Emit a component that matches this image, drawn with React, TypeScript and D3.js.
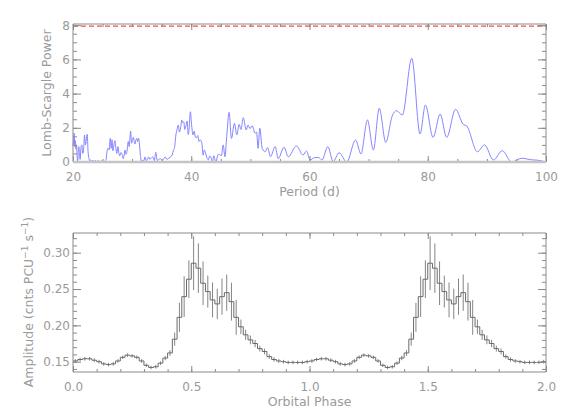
import React, { useEffect, useRef } from 'react';
import * as d3 from 'd3';

// Lomb-Scargle periodogram
const periods = [
  20.0, 20.1, 20.2, 20.3, 20.4, 20.5, 20.6, 20.7, 20.8, 20.9, 21.0, 21.1, 21.2, 21.35, 21.5, 21.65, 21.8, 21.95,
  22.1, 22.25, 22.4, 22.55, 22.7, 22.8, 23.0, 23.2, 23.4, 23.6, 23.8, 24.0, 24.3, 24.5, 24.8, 25.1, 25.4, 25.6,
  25.75, 25.9, 26.1, 26.3, 26.45, 26.6, 26.75, 26.9, 27.1, 27.25, 27.4, 27.6, 27.75, 27.9, 28.1, 28.3, 28.5,
  28.65, 28.8, 28.95, 29.1, 29.35, 29.5, 29.75, 29.9, 30.05, 30.2, 30.35, 30.5, 30.65, 30.8, 30.95, 31.1, 31.25,
  31.4, 31.6, 31.8, 31.95, 32.2, 32.4, 32.6, 32.8, 33.0, 33.2, 33.5, 33.75, 34.0, 34.25, 34.5, 34.8, 35.1, 35.35,
  35.6, 35.9, 36.2, 36.5, 36.75, 37.0, 37.15, 37.4, 37.6, 37.8, 38.0, 38.2, 38.4, 38.55, 38.75, 38.9, 39.1, 39.3,
  39.5, 39.65, 39.85, 40.05, 40.3, 40.5, 40.7, 40.9, 41.1, 41.3, 41.5, 41.8, 42.0, 42.2, 42.4, 42.65, 42.9, 43.1,
  43.3, 43.6, 43.8, 44.0, 44.2, 44.4, 44.6, 44.9, 45.1, 45.4, 45.7, 46.0, 46.4, 46.8, 47.3, 47.7, 48.1, 48.4,
  48.8, 49.3, 49.6, 49.95, 50.3, 50.8, 51.05, 51.3, 51.6, 52.0, 52.5, 52.9, 53.4, 54.2, 54.7, 55.7, 56.4, 57.8,
  58.9, 59.5, 60.1, 60.8, 61.5, 62.1, 63.1, 64.0, 65.0, 66.3, 67.8, 68.7, 69.8, 70.8, 71.8, 72.9, 74.0, 74.7,
  75.7, 77.3, 78.7, 79.6, 80.9, 82.1, 83.2, 84.7, 86.0, 86.6, 88.4, 89.6, 91.1, 92.6, 94.2, 95.9, 97.5, 98.7, 100.0,
];
const power = [
  0.95, 1.3, 1.68, 0.9, 1.25, 0.75, 1.0, 0.3, 0.05, 0.7, 0.9, 0.5, 0.15, 0.85, 1.0, 0.5, 0.75, 1.58,
  1.0, 1.3, 1.62, 0.6, 0.2, 0.08, 0.12, 0.03, 0.1, 0.02, 0.09, 0.03, 0.08, 0.01, 0.07, 0.0, 0.05, 0.15,
  0.6, 0.8, 0.7, 1.38, 0.8, 1.3, 0.65, 0.95, 1.25, 0.8, 0.5, 0.9, 0.55, 0.35, 0.55, 0.45, 0.2,
  0.4, 0.7, 0.45, 0.55, 1.2, 0.9, 1.8, 1.1, 1.25, 1.45, 1.2, 1.05, 1.3, 1.38, 1.2, 1.38, 1.0,
  0.4, 0.0, 0.12, 0.05, 0.3, 0.08, 0.15, 0.3, 0.15, 0.22, 0.3, 0.08, 0.57, 0.08, 0.15, 0.2, 0.08, 0.18,
  0.3, 0.15, 0.22, 0.3, 0.4, 0.7, 0.8, 1.58, 1.9, 2.16, 1.75, 2.0, 2.46, 2.3, 2.35, 1.9, 2.1, 2.4,
  1.6, 2.0, 2.94, 2.2, 1.58, 1.8, 1.45, 1.42, 1.55, 1.2, 1.3, 1.09, 0.4, 0.7, 0.55, 0.25, 0.12, 0.35,
  0.3, 0.02, 0.37, 0.15, 0.0, 0.3, 0.45, 0.4, 0.37, 1.0, 0.31, 1.5, 2.9, 1.38, 2.26, 1.58, 2.2, 1.9,
  2.59, 1.87, 2.16, 1.95, 2.12, 1.68, 1.75, 0.8, 1.97, 0.8, 0.6, 0.84, 0.31, 0.9, 0.2, 0.86, 0.31, 0.94,
  0.41, 0.64, 0.12, 0.25, 0.27, 0.12, 0.9, 0.02, 0.54, 0.0, 1.29, 0.47, 2.46, 0.7, 3.14, 1.15, 2.7, 3.0,
  2.75, 6.06, 1.64, 3.33, 1.44, 2.8, 1.44, 3.08, 2.2, 2.1, 0.6, 1.0, 0.12, 0.66, 0.0, 0.22, 0.13, 0.1, 0.0,
];
const sigLevel = 7.95;

// folded light curve, 50 bins per orbit, shown for two orbits
const binValues = [
  0.151, 0.153, 0.154, 0.154, 0.152, 0.15, 0.147, 0.146, 0.147, 0.151,
  0.156, 0.159, 0.158, 0.156, 0.151, 0.145, 0.142, 0.143, 0.148, 0.155,
  0.162, 0.181, 0.211, 0.2395, 0.2635, 0.2855, 0.2787, 0.258, 0.2465, 0.235,
  0.2295, 0.2395, 0.245, 0.2326, 0.211, 0.198, 0.187, 0.18, 0.175, 0.168,
  0.164, 0.157, 0.153, 0.151, 0.15, 0.149, 0.149, 0.149, 0.149, 0.15,
];
const binErrors = [
  0.0025, 0.0025, 0.0025, 0.0025, 0.0025, 0.0025, 0.0025, 0.0025, 0.0025, 0.0025,
  0.0025, 0.0025, 0.0025, 0.0025, 0.0025, 0.0025, 0.0025, 0.0025, 0.0025, 0.003,
  0.004, 0.009, 0.02, 0.028, 0.026, 0.037, 0.034, 0.03, 0.022, 0.024,
  0.021, 0.025, 0.025, 0.026, 0.024, 0.01, 0.007, 0.006, 0.005, 0.004,
  0.004, 0.003, 0.003, 0.0025, 0.0025, 0.0025, 0.0025, 0.0025, 0.0025, 0.0025,
];
const cycles = [0, 1];

const periodTicks = [20, 40, 60, 80, 100];
const powerTicks = [0, 2, 4, 6, 8];
const phaseTicks = [0, 0.5, 1, 1.5, 2];
const ampTicks = [0.15, 0.2, 0.25, 0.3];

const W = 568;
const H = 419;
const TXT = '#9a9a9a';
const AX = '#8a8a8a';
const FONT = 'DejaVu Sans, sans-serif';

const App = () => {
  const ref = useRef<SVGSVGElement>(null);

  useEffect(() => {
    const svg = d3.select(ref.current);
    svg.selectAll('*').remove();

    const left = 73, right = 546;

    const frame = (x, y, xMajor, xMinor, yMajor, yMinor, xFmt, yFmt, bottomStroke, bottomWidth) => {
      const [y0, y1] = y.range();
      const g = svg.append('g');
      const style = (sel) => {
        sel.select('.domain').remove();
        sel.selectAll('line').attr('stroke', AX);
        sel.selectAll('text').attr('fill', TXT).style('font-family', FONT).style('font-size', '12px');
      };
      // minor ticks
      g.append('g').attr('transform', `translate(0,${y0})`)
        .call(d3.axisBottom(x).tickValues(xMinor).tickSize(-3).tickFormat(() => '')).call(style);
      g.append('g').attr('transform', `translate(0,${y1})`)
        .call(d3.axisTop(x).tickValues(xMinor).tickSize(-3).tickFormat(() => '')).call(style);
      g.append('g').attr('transform', `translate(${left},0)`)
        .call(d3.axisLeft(y).tickValues(yMinor).tickSize(-4).tickFormat(() => '')).call(style);
      g.append('g').attr('transform', `translate(${right},0)`)
        .call(d3.axisRight(y).tickValues(yMinor).tickSize(-4).tickFormat(() => '')).call(style);
      // major ticks
      g.append('g').attr('transform', `translate(0,${y0})`)
        .call(d3.axisBottom(x).tickValues(xMajor).tickSize(-6).tickPadding(10).tickFormat(xFmt)).call(style);
      g.append('g').attr('transform', `translate(0,${y1})`)
        .call(d3.axisTop(x).tickValues(xMajor).tickSize(-6).tickFormat(() => '')).call(style);
      g.append('g').attr('transform', `translate(${left},0)`)
        .call(d3.axisLeft(y).tickValues(yMajor).tickSize(-8).tickPadding(3).tickFormat(yFmt)).call(style);
      g.append('g').attr('transform', `translate(${right},0)`)
        .call(d3.axisRight(y).tickValues(yMajor).tickSize(-8).tickFormat(() => '')).call(style);
      // box
      g.append('line').attr('x1', left).attr('x2', right).attr('y1', y1).attr('y2', y1).attr('stroke', AX);
      g.append('line').attr('x1', left).attr('x2', left).attr('y1', y0).attr('y2', y1).attr('stroke', AX);
      g.append('line').attr('x1', right).attr('x2', right).attr('y1', y0).attr('y2', y1).attr('stroke', AX);
      g.append('line').attr('x1', left).attr('x2', right).attr('y1', y0).attr('y2', y0)
        .attr('stroke', bottomStroke).attr('stroke-width', bottomWidth);
    };

    // ---- top panel: periodogram ----
    const x1 = d3.scaleLinear().domain([20, 100]).range([left, right]);
    const y1 = d3.scaleLinear().domain([0, 8.07]).range([162, 24]);

    const pts = periods.map((p, i) => [p, power[i]]);
    svg.append('path')
      .datum(pts)
      .attr('fill', 'none')
      .attr('stroke', '#8585ff')
      .attr('stroke-width', 1)
      .attr('d', d3.line().x(d => x1(d[0])).y(d => y1(d[1])).curve(d3.curveMonotoneX));

    svg.append('line')
      .attr('x1', x1(20)).attr('x2', x1(100))
      .attr('y1', y1(sigLevel)).attr('y2', y1(sigLevel))
      .attr('stroke', '#ff4a4a').attr('stroke-width', 1.2).attr('stroke-dasharray', '5,3');

    frame(x1, y1, periodTicks, d3.range(20, 100.01, 5), powerTicks, d3.range(0, 8.01, 0.5),
      d => d3.format('d')(d), d => d3.format('d')(d), '#c4c4c4', 2.5);

    svg.append('text')
      .attr('transform', `translate(51,93) rotate(-90)`)
      .attr('text-anchor', 'middle')
      .attr('fill', TXT).style('font-family', FONT).style('font-size', '12.5px')
      .text('Lomb-Scargle Power');
    svg.append('text')
      .attr('x', (left + right) / 2).attr('y', 196)
      .attr('text-anchor', 'middle')
      .attr('fill', TXT).style('font-family', FONT).style('font-size', '12.5px')
      .text('Period (d)');

    // ---- bottom panel: folded light curve ----
    const x2 = d3.scaleLinear().domain([0, 2]).range([left, right]);
    const y2 = d3.scaleLinear().domain([0.1358, 0.3271]).range([372, 233]);
    const nb = binValues.length;
    const bins = cycles.flatMap(c => binValues.map((v, i) => ({
      lo: c + i / nb, hi: c + (i + 1) / nb, v, e: binErrors[i],
    })));

    svg.append('g').selectAll('line')
      .data(bins)
      .enter().append('line')
      .attr('x1', d => x2((d.lo + d.hi) / 2))
      .attr('x2', d => x2((d.lo + d.hi) / 2))
      .attr('y1', d => y2(d.v - d.e))
      .attr('y2', d => y2(d.v + d.e))
      .attr('stroke', '#858585')
      .attr('stroke-width', 1);

    const stepPts = bins.flatMap(b => [[b.lo, b.v], [b.hi, b.v]]);
    svg.append('path')
      .datum(stepPts)
      .attr('fill', 'none')
      .attr('stroke', '#6a6a6a')
      .attr('stroke-width', 1)
      .attr('d', d3.line().x(d => x2(d[0])).y(d => y2(d[1])));

    frame(x2, y2, phaseTicks, d3.range(0, 2.001, 0.1), ampTicks, d3.range(0.14, 0.3201, 0.01),
      d => d3.format('.1f')(d), d => d3.format('.2f')(d), AX, 1);

    const yl = svg.append('text')
      .attr('transform', `translate(33,302) rotate(-90)`)
      .attr('text-anchor', 'middle')
      .attr('fill', TXT).style('font-family', FONT).style('font-size', '12.5px');
    yl.append('tspan').text('Amplitude (cnts PCU');
    yl.append('tspan').attr('dy', -5).style('font-size', '9px').text('−1');
    yl.append('tspan').attr('dy', 5).text(' s');
    yl.append('tspan').attr('dy', -5).style('font-size', '9px').text('−1');
    yl.append('tspan').attr('dy', 5).text(')');

    svg.append('text')
      .attr('x', (left + right) / 2).attr('y', 406)
      .attr('text-anchor', 'middle')
      .attr('fill', TXT).style('font-family', FONT).style('font-size', '12.5px')
      .text('Orbital Phase');
  }, []);

  return (
    <svg ref={ref} width={W} height={H}
      style={{ position: 'absolute', left: 0, top: 0, background: '#fff' }} />
  );
};

export default App;
